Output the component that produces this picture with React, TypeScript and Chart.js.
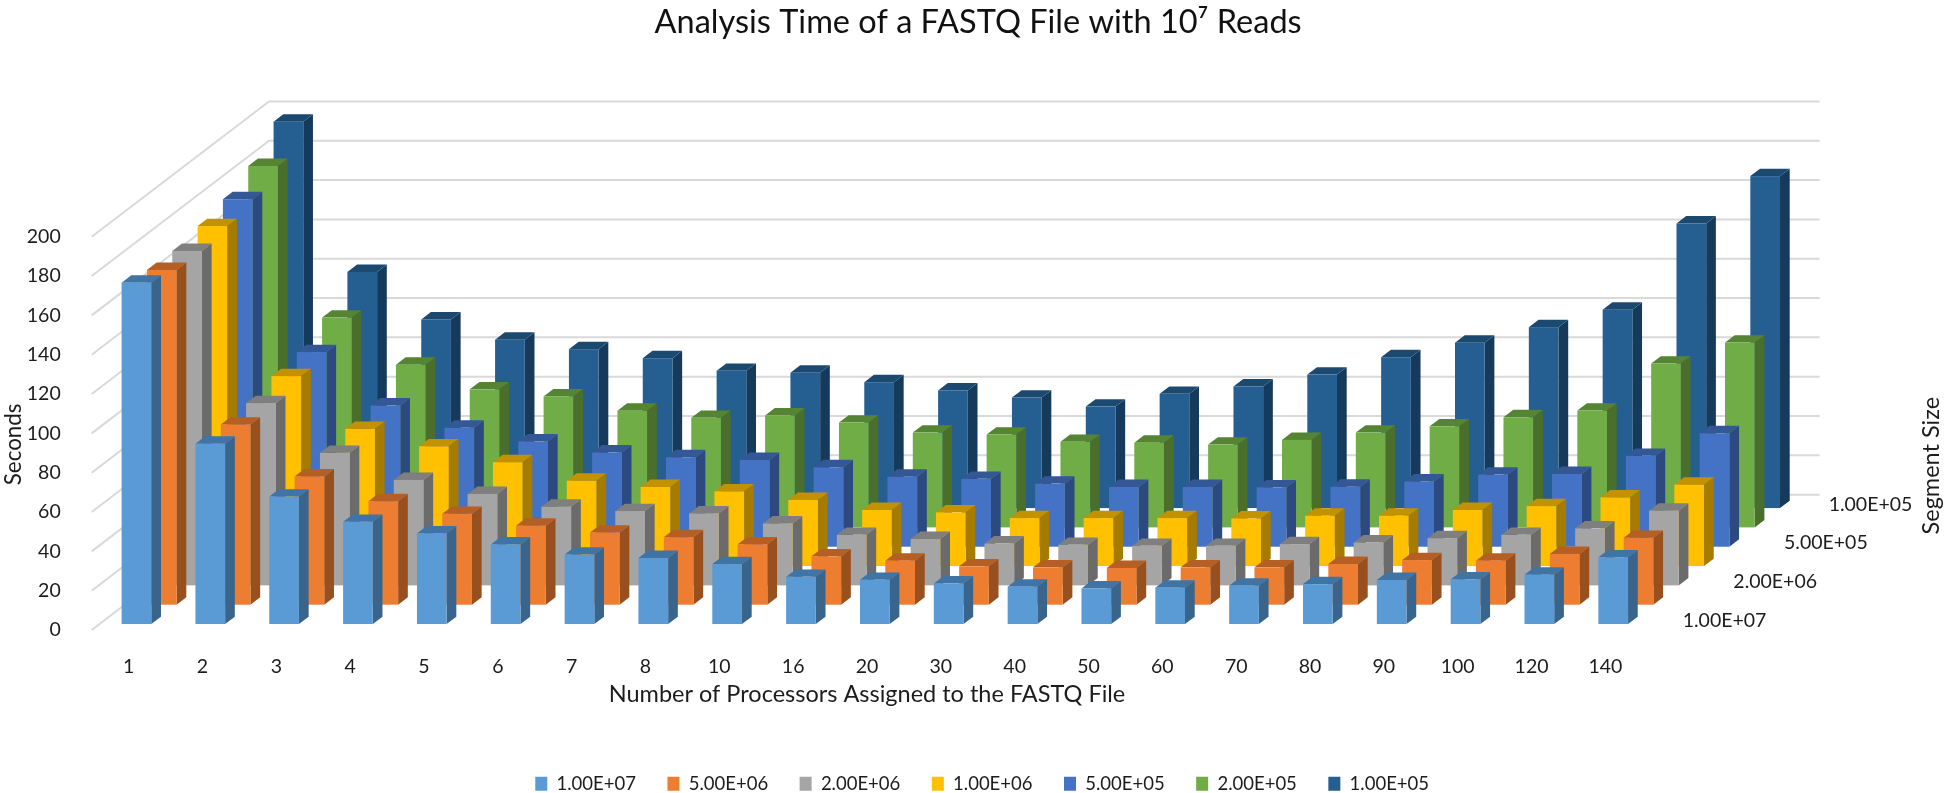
import React, { useEffect, useRef } from "react";
import { Chart, registerables, BarController, BarElement } from "chart.js";

const processors = ["1","2","3","4","5","6","7","8","10","16","20","30","40","50","60","70","80","90","100","120","140"];
const seriesNames = ["1.00E+07","5.00E+06","2.00E+06","1.00E+06","5.00E+05","2.00E+05","1.00E+05"];
const depthLabels = ["1.00E+07","2.00E+06","5.00E+05","1.00E+05"];
const depthLabelSeries = [0, 2, 4, 6];
const depthLabelNudge = [0, 0, 0, -6];

const seg1e7 = [173.6,91.7,64.8,52,46.1,40.5,35.3,33.6,30.5,24,22.5,20.6,19,18.1,18.5,19.5,20.3,22.4,22.7,25.1,33.9];
const seg5e6 = [170.2,91.6,65.2,52.6,46.2,40.2,36.7,34.3,30.7,24.6,22.4,19.5,19,18.7,19,19,20.7,22.7,22.4,25.8,34];
const seg2e6 = [170.1,92.7,67.4,53.6,46.5,40,37.8,36.6,31.5,25.7,23.6,21.3,20.6,20.1,20.1,21,21.8,24,25.7,29,38];
const seg1e6 = [172.9,96.6,69.8,60.9,52.8,43.4,40.2,38,33.6,28.5,27.3,24.4,24.4,24.4,24.2,25.6,25.6,28.5,30.5,34.9,41.4];
const seg5e5 = [176.7,99,71.8,60.5,53.6,47.9,45.5,44.1,40.4,35.6,34.5,32.1,30.4,30.4,30.2,30.5,33.2,36.7,37,46.2,57.7];
const seg2e5 = [183.8,106.7,82.7,70.2,66.6,59.3,55.7,56.9,53.3,48.2,47.2,43.5,43.1,42.1,44.5,48.2,51.4,56,59.4,83.3,94];
const seg1e5 = [196.5,120.1,95.9,85.6,80.8,76.2,69.8,68.8,64,59.8,56.2,51.6,58.1,61.8,67.9,76.7,84.1,92,100.9,144.7,168.8];
const seriesValues = [seg1e7, seg5e6, seg2e6, seg1e6, seg5e5, seg2e5, seg1e5];

const frontColors = ["#5B9BD5","#ED7D31","#A5A5A5","#FFC000","#4472C4","#70AD47","#255E91"];
const sideColors = ["#39648C","#99501F","#6B6B6B","#A67C00","#2C4A80","#4A6F2C","#163A5B"];
const topColors = ["#3F74A5","#B55F24","#7F7F7F","#C29200","#345795","#558533","#1C4970"];

const FONT = 'Lato, "Noto Sans", sans-serif';
const TEXT = "#1c1c1c";
const CELL_DX = 25.33;
const CELL_DY = 19.33;
const SERIES_COUNT = seriesValues.length;
const BAR_DEPTH = 0.383;
const FRONT_GAP = (1 - BAR_DEPTH) / 2;

class Bar3D extends BarElement {
  static id = "bar3d";
  static defaults = { ...BarElement.defaults };
  draw(ctx: CanvasRenderingContext2D) {
    const self = this as any;
    const k: number = self.depthIndex;
    const { x, y, base, width } = self.getProps(["x", "y", "base", "width"], true);
    const ox = CELL_DX * (k + FRONT_GAP);
    const oy = CELL_DY * (k + FRONT_GAP);
    const dx = CELL_DX * BAR_DEPTH;
    const dy = CELL_DY * BAR_DEPTH;
    const l = x - width / 2 + ox;
    const r = x + width / 2 + ox;
    const t = y - oy;
    const b = base - oy;
    ctx.save();
    ctx.fillStyle = sideColors[k];
    ctx.beginPath();
    ctx.moveTo(r, t);
    ctx.lineTo(r + dx, t - dy);
    ctx.lineTo(r + dx, b - dy);
    ctx.lineTo(r, b);
    ctx.closePath();
    ctx.fill();
    ctx.fillStyle = topColors[k];
    ctx.beginPath();
    ctx.moveTo(l, t);
    ctx.lineTo(l + dx, t - dy);
    ctx.lineTo(r + dx, t - dy);
    ctx.lineTo(r, t);
    ctx.closePath();
    ctx.fill();
    ctx.fillStyle = frontColors[k];
    ctx.fillRect(l, t, r - l, b - t);
    ctx.restore();
  }
}

class Bar3DController extends BarController {
  static id = "bar3d";
  static defaults = { ...BarController.defaults, dataElementType: "bar3d" };
  draw() {
    const self = this as any;
    self._cachedMeta.data.forEach((element: any) => {
      element.depthIndex = self.index;
    });
    super.draw();
  }
}

Chart.register(...registerables, Bar3D, Bar3DController);

const wallPlugin = {
  id: "wall3d",
  afterLayout(chart: any) {
    chart.titleBlock.left += 157;
    chart.titleBlock.right += 157;
    chart.legend.left += 161;
    chart.legend.right += 161;
    chart.legend.top += 10;
    chart.legend.bottom += 10;
    const yScale = chart.scales.y;
    if (!yScale.titleNudged) {
      const drawTitle = yScale.drawTitle;
      yScale.drawTitle = function () {
        this.ctx.save();
        this.ctx.translate(0, 11);
        drawTitle.call(this);
        this.ctx.restore();
      };
      yScale.titleNudged = true;
    }
  },
  beforeDatasetsDraw(chart: any) {
    const { ctx, chartArea, scales } = chart;
    const wx = CELL_DX * SERIES_COUNT;
    const wy = CELL_DY * SERIES_COUNT;
    ctx.save();
    ctx.strokeStyle = "#D9D9D9";
    ctx.lineWidth = 2;
    for (const tick of scales.y.ticks) {
      const py = scales.y.getPixelForValue(tick.value);
      ctx.beginPath();
      ctx.moveTo(chartArea.left, py);
      ctx.lineTo(chartArea.left + wx, py - wy);
      ctx.lineTo(chartArea.right + wx, py - wy);
      ctx.stroke();
    }
    ctx.restore();
  },
  afterDraw(chart: any) {
    const { ctx, chartArea } = chart;
    ctx.save();
    ctx.fillStyle = TEXT;
    ctx.font = `19.5px ${FONT}`;
    ctx.textBaseline = "middle";
    ctx.textAlign = "left";
    depthLabels.forEach((label, i) => {
      const k = depthLabelSeries[i];
      const x = chartArea.right + CELL_DX * (k + 0.5) + 27.7 + depthLabelNudge[i];
      const y = chartArea.bottom - CELL_DY * (k + 0.5);
      ctx.fillText(label, x, y);
    });
    ctx.font = `23.5px ${FONT}`;
    ctx.translate(1931.7, 465.7);
    ctx.rotate(-Math.PI / 2);
    ctx.textAlign = "center";
    ctx.fillText("Segment Size", 0, 0);
    ctx.restore();
  },
};

export default function App() {
  const ref = useRef<HTMLCanvasElement>(null);
  useEffect(() => {
    document.body.style.margin = "0";
    document.body.style.background = "#ffffff";
    const chart = new Chart(ref.current as HTMLCanvasElement, {
      type: "bar3d" as any,
      data: {
        labels: processors,
        datasets: seriesNames.map((name, i) => ({
          label: name,
          data: seriesValues[i],
          backgroundColor: frontColors[i],
          borderWidth: 0,
          grouped: false,
          categoryPercentage: 0.402,
          barPercentage: 1,
          clip: false,
        })) as any,
      },
      options: {
        animation: false,
        responsive: false,
        devicePixelRatio: 1,
        layout: { padding: { left: 0, right: 303.7, top: 0, bottom: 0 } },
        plugins: {
          title: {
            display: true,
            text: "Analysis Time of a FASTQ File with 10⁷ Reads",
            color: "#111111",
            font: { family: FONT, size: 32.5, weight: "normal" },
            padding: { top: 3, bottom: 194.7 },
          },
          legend: {
            position: "bottom",
            labels: {
              color: TEXT,
              font: { family: FONT, size: 18.5 },
              boxWidth: 12,
              boxHeight: 14,
              padding: 31.5,
            },
          },
          tooltip: { enabled: false },
        },
        scales: {
          x: {
            type: "category",
            grid: { display: false },
            border: { display: false },
            ticks: {
              color: TEXT,
              font: { family: FONT, size: 19.5 },
              padding: 17,
              autoSkip: false,
              maxRotation: 0,
            },
            title: {
              display: true,
              text: "Number of Processors Assigned to the FASTQ File",
              color: TEXT,
              font: { family: FONT, size: 23.5 },
              padding: { top: 0, bottom: 24 },
            },
            afterFit(scale: any) {
              scale.height = 103;
            },
          },
          y: {
            type: "linear",
            min: 0,
            max: 200,
            grid: { display: false },
            border: { display: false },
            ticks: {
              color: TEXT,
              font: { family: FONT, size: 19.5 },
              stepSize: 20,
              padding: 23,
            },
            title: {
              display: true,
              text: "Seconds",
              color: TEXT,
              font: { family: FONT, size: 22.4 },
              padding: { top: 0, bottom: 0 },
            },
            afterFit(scale: any) {
              scale.width = 91.7;
            },
          },
        },
      } as any,
      plugins: [wallPlugin],
    });
    return () => chart.destroy();
  }, []);
  return (
    <div style={{ position: "fixed", left: 0, top: 0, width: 1946, height: 793, background: "#fff" }}>
      <canvas ref={ref} width={1946} height={793} style={{ display: "block" }} />
    </div>
  );
}
